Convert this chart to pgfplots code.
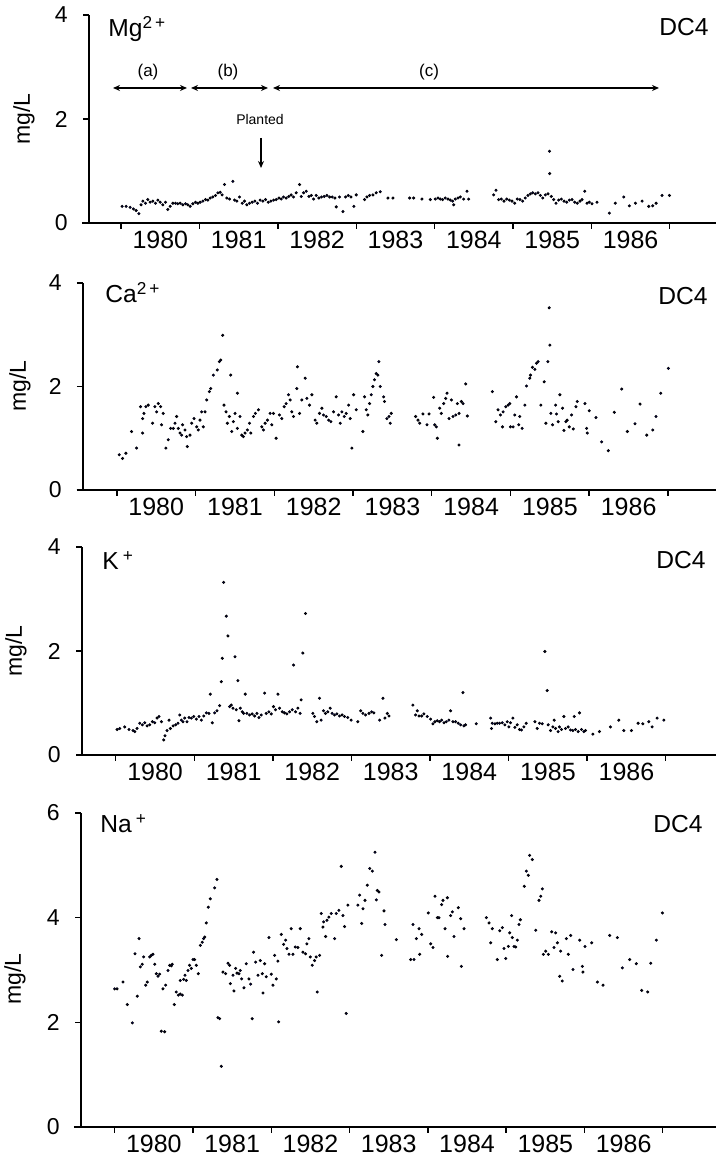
\documentclass[border=0pt]{standalone}
\usepackage{pgfplots}
\pgfplotsset{compat=1.18}
\usepackage{fontspec}
\setmainfont{Liberation Sans}
\usetikzlibrary{arrows.meta}

\pgfplotsset{
  panel/.style={
    scale only axis,
    axis x line*=bottom, axis y line*=left,
    axis line style={line width=0.7pt, -},
    ymin=0,
    xtick={1980,...,1987}, xticklabels={},
    extra x ticks={1980.5,1981.5,1982.5,1983.5,1984.5,1985.5,1986.5},
    extra x tick labels={1980,1981,1982,1983,1984,1985,1986},
    extra x tick style={major tick length=0pt, tick label style={font=\fontsize{12.5}{14}\selectfont, inner sep=0pt, anchor=north, yshift=-4pt}},
    tick align=outside,
    major tick length=3pt,
    tick style={line width=0.7pt, black},
    yticklabel style={font=\fontsize{11.5}{13}\selectfont, inner sep=0pt, xshift=-7.5pt},
    /pgf/number format/assume math mode=true,
    clip=false,
    only marks, mark=*, mark size=0.55pt,
    every axis plot/.append style={black, mark options={fill=black, draw=black}},
  }
}
\newcommand{\tfont}{\fontsize{12.3}{14}\selectfont}
\newcommand{\lfont}{\fontsize{11.5}{14}\selectfont}

\begin{document}
\begin{tikzpicture}
% ---------------- Mg ----------------
\begin{axis}[panel, at={(44.5pt,466.5pt)}, anchor=south west, width=313.5pt, height=104pt,
  xmin=1979.59, xmax=1987.59, ymax=4, ytick={0,2,4}]
\addplot coordinates {
(1980.013,0.32)(1980.064,0.32)(1980.115,0.30)(1980.157,0.27)(1980.191,0.24)(1980.226,0.18)(1980.255,0.35)(1980.277,0.42)
(1980.311,0.38)(1980.340,0.45)(1980.370,0.40)(1980.404,0.42)(1980.438,0.38)(1980.468,0.44)(1980.498,0.40)(1980.532,0.35)
(1980.566,0.40)(1980.596,0.26)(1980.626,0.32)(1980.660,0.38)(1980.694,0.38)(1980.723,0.37)(1980.753,0.38)(1980.787,0.35)
(1980.821,0.37)(1980.851,0.35)(1980.881,0.32)(1980.915,0.37)(1980.949,0.40)(1980.979,0.38)(1981.009,0.40)(1981.043,0.42)
(1981.077,0.45)(1981.106,0.44)(1981.136,0.48)(1981.170,0.50)(1981.204,0.53)(1981.234,0.58)(1981.264,0.59)(1981.289,0.54)
(1981.319,0.74)(1981.349,0.48)(1981.383,0.46)(1981.426,0.80)(1981.447,0.44)(1981.477,0.42)(1981.511,0.50)(1981.545,0.38)
(1981.574,0.42)(1981.604,0.35)(1981.638,0.38)(1981.672,0.40)(1981.706,0.42)(1981.740,0.38)(1981.774,0.44)(1981.809,0.42)
(1981.843,0.45)(1981.877,0.40)(1981.911,0.42)(1981.945,0.44)(1981.979,0.45)(1982.013,0.48)(1982.043,0.46)(1982.072,0.50)
(1982.106,0.48)(1982.140,0.51)(1982.170,0.54)(1982.200,0.50)(1982.234,0.58)(1982.277,0.74)(1982.298,0.51)(1982.328,0.58)
(1982.362,0.61)(1982.396,0.51)(1982.426,0.53)(1982.455,0.46)(1982.489,0.53)(1982.523,0.48)(1982.557,0.50)(1982.591,0.51)
(1982.626,0.53)(1982.660,0.50)(1982.694,0.50)(1982.728,0.48)(1982.745,0.31)(1982.787,0.50)(1982.830,0.22)(1982.864,0.50)
(1982.898,0.53)(1982.932,0.50)(1982.970,0.32)(1983.000,0.54)(1983.106,0.45)(1983.136,0.50)(1983.170,0.53)(1983.213,0.54)
(1983.255,0.58)(1983.306,0.60)(1983.404,0.48)(1983.468,0.48)(1983.681,0.48)(1983.732,0.48)(1983.838,0.46)(1983.945,0.45)
(1984.009,0.46)(1984.043,0.48)(1984.072,0.46)(1984.102,0.45)(1984.136,0.48)(1984.170,0.46)(1984.200,0.44)(1984.230,0.42)
(1984.243,0.35)(1984.264,0.46)(1984.298,0.48)(1984.328,0.50)(1984.370,0.46)(1984.413,0.61)(1984.434,0.46)(1984.753,0.54)
(1984.783,0.63)(1984.817,0.45)(1984.851,0.46)(1984.885,0.42)(1984.919,0.46)(1984.953,0.44)(1984.987,0.42)(1985.021,0.38)
(1985.055,0.46)(1985.089,0.45)(1985.123,0.42)(1985.157,0.48)(1985.191,0.53)(1985.221,0.56)(1985.251,0.58)(1985.285,0.56)
(1985.319,0.58)(1985.349,0.53)(1985.379,0.48)(1985.413,0.54)(1985.447,0.56)(1985.468,0.95)(1985.465,1.38)(1985.489,0.51)
(1985.519,0.45)(1985.549,0.38)(1985.583,0.44)(1985.617,0.46)(1985.651,0.42)(1985.685,0.40)(1985.719,0.44)(1985.753,0.45)
(1985.787,0.40)(1985.821,0.38)(1985.855,0.42)(1985.881,0.45)(1985.915,0.61)(1985.945,0.38)(1985.974,0.40)(1986.009,0.37)
(1986.072,0.40)(1986.230,0.19)(1986.306,0.38)(1986.413,0.50)(1986.485,0.33)(1986.562,0.38)(1986.647,0.42)(1986.732,0.32)
(1986.783,0.33)(1986.826,0.38)(1986.902,0.53)(1986.996,0.53)
};
\draw[line width=0.7pt] (axis cs:1979.5,0) -- (axis cs:1979.59,0);
\end{axis}
% ---------------- Ca ----------------
\begin{axis}[panel, at={(41.5pt,333pt)}, anchor=south west, width=316.5pt, height=103.5pt,
  xmin=1979.57, xmax=1987.61, ymax=4, ytick={0,2,4}]
\addplot coordinates {
(1980.030,0.68)(1980.072,0.61)(1980.115,0.71)(1980.187,1.13)(1980.250,0.81)(1980.301,1.61)(1980.327,1.38)(1980.344,1.48)
(1980.369,1.61)(1980.399,1.64)(1980.327,1.10)(1980.454,1.29)(1980.483,1.61)(1980.505,1.51)(1980.526,1.67)(1980.556,1.61)
(1980.589,1.48)(1980.568,1.26)(1980.623,0.81)(1980.653,0.97)(1980.683,1.19)(1980.717,1.19)(1980.738,1.29)(1980.759,1.42)
(1980.780,1.19)(1980.802,1.10)(1980.823,1.06)(1980.835,1.26)(1980.865,1.16)(1980.886,1.03)(1980.895,0.84)(1980.929,1.06)
(1980.950,1.29)(1980.980,1.38)(1981.014,1.22)(1981.035,1.16)(1981.056,1.35)(1981.077,1.51)(1981.098,1.22)(1981.120,1.51)
(1981.141,1.74)(1981.175,1.90)(1981.192,1.96)(1981.226,2.22)(1981.276,2.32)(1981.302,2.48)(1981.319,2.51)(1981.344,2.99)
(1981.361,1.64)(1981.387,1.51)(1981.404,1.29)(1981.429,1.42)(1981.446,2.22)(1981.459,1.13)(1981.480,1.32)(1981.501,1.48)
(1981.531,1.87)(1981.531,1.19)(1981.565,1.42)(1981.586,1.06)(1981.607,1.03)(1981.628,1.10)(1981.658,1.16)(1981.684,1.29)
(1981.701,1.10)(1981.735,1.42)(1981.760,1.48)(1981.798,1.55)(1981.841,1.22)(1981.862,1.16)(1981.883,1.29)(1981.913,1.35)
(1981.947,1.48)(1981.968,1.26)(1981.989,1.48)(1982.023,1.00)(1982.065,1.45)(1982.095,1.38)(1982.125,1.61)(1982.150,1.67)
(1982.180,1.84)(1982.201,1.74)(1982.222,1.51)(1982.243,1.42)(1982.286,1.96)(1982.294,2.38)(1982.320,1.48)(1982.349,1.74)
(1982.392,2.16)(1982.413,1.77)(1982.447,1.64)(1982.477,1.84)(1982.519,1.35)(1982.540,1.29)(1982.574,1.48)(1982.604,1.58)
(1982.625,1.45)(1982.659,1.42)(1982.689,1.35)(1982.718,1.32)(1982.752,1.51)(1982.786,1.80)(1982.816,1.45)(1982.837,1.29)
(1982.858,1.51)(1982.888,1.42)(1982.913,1.48)(1982.943,1.64)(1982.964,1.38)(1982.985,0.81)(1983.007,1.84)(1983.041,1.55)
(1983.125,1.13)(1983.146,1.80)(1983.167,1.55)(1983.188,1.45)(1983.210,1.67)(1983.231,1.84)(1983.252,2.00)(1983.273,2.13)
(1983.294,2.25)(1983.316,2.22)(1983.328,2.48)(1983.345,2.00)(1983.388,1.80)(1983.400,1.71)(1983.430,1.38)(1983.456,1.42)
(1983.473,1.29)(1983.485,1.48)(1983.795,1.42)(1983.825,1.35)(1983.846,1.29)(1983.888,1.47)(1983.939,1.26)(1983.965,1.47)
(1984.024,1.79)(1984.037,1.26)(1984.058,1.22)(1984.071,1.00)(1984.100,1.58)(1984.121,1.48)(1984.151,1.67)(1984.177,1.77)
(1984.194,1.87)(1984.219,1.38)(1984.249,1.74)(1984.270,1.42)(1984.304,1.45)(1984.325,1.67)(1984.346,1.48)(1984.346,0.87)
(1984.376,1.71)(1984.397,1.67)(1984.431,2.05)(1984.452,1.43)(1984.770,1.90)(1984.813,1.32)(1984.842,1.55)(1984.872,1.45)
(1984.898,1.22)(1984.906,1.51)(1984.940,1.61)(1984.970,1.64)(1984.991,1.67)(1984.999,1.22)(1985.033,1.22)(1985.054,1.45)
(1985.076,1.80)(1985.105,1.26)(1985.118,1.42)(1985.148,1.19)(1985.182,1.64)(1985.203,2.01)(1985.245,2.16)(1985.254,2.22)
(1985.279,2.37)(1985.309,2.33)(1985.330,2.45)(1985.351,2.48)(1985.385,1.64)(1985.428,2.09)(1985.449,1.29)(1985.474,2.48)
(1985.491,3.52)(1985.500,2.80)(1985.512,1.48)(1985.534,1.26)(1985.572,1.64)(1985.584,1.47)(1985.606,1.32)(1985.627,1.84)
(1985.661,1.58)(1985.678,1.15)(1985.703,1.32)(1985.720,1.35)(1985.746,1.22)(1985.775,1.45)(1985.797,1.18)(1985.831,1.61)
(1985.848,1.71)(1985.945,1.67)(1985.966,1.19)(1985.975,1.10)(1986.000,1.53)(1986.085,1.40)(1986.157,0.93)(1986.242,0.76)
(1986.318,1.50)(1986.412,1.95)(1986.484,1.13)(1986.581,1.28)(1986.645,1.66)(1986.730,1.06)(1986.806,1.16)(1986.848,1.42)
(1986.908,1.87)(1987.005,2.35)
};
\draw[line width=0.7pt] (axis cs:1979.49,0) -- (axis cs:1979.57,0);
\end{axis}
% ---------------- K ----------------
\begin{axis}[panel, at={(41pt,200.5pt)}, anchor=south west, width=317pt, height=104pt,
  xmin=1979.57, xmax=1987.64, ymax=4, ytick={0,2,4}]
\addplot coordinates {
(1980.017,0.49)(1980.051,0.51)(1980.114,0.54)(1980.169,0.49)(1980.220,0.47)(1980.242,0.45)(1980.271,0.51)(1980.305,0.61)
(1980.339,0.58)(1980.369,0.62)(1980.398,0.56)(1980.432,0.58)(1980.466,0.64)(1980.496,0.62)(1980.525,0.71)(1980.551,0.74)
(1980.581,0.64)(1980.610,0.29)(1980.627,0.37)(1980.653,0.47)(1980.678,0.67)(1980.695,0.51)(1980.729,0.56)(1980.763,0.58)
(1980.792,0.61)(1980.814,0.77)(1980.835,0.67)(1980.856,0.64)(1980.877,0.71)(1980.907,0.64)(1980.932,0.72)(1980.962,0.71)
(1980.992,0.74)(1981.025,0.69)(1981.059,0.74)(1981.089,0.67)(1981.119,0.75)(1981.153,0.81)(1981.186,0.80)(1981.203,1.17)
(1981.229,0.62)(1981.258,0.81)(1981.288,0.85)(1981.322,0.95)(1981.343,1.41)(1981.356,1.86)(1981.373,3.32)(1981.407,2.67)
(1981.428,2.29)(1981.449,0.93)(1981.470,0.96)(1981.492,0.90)(1981.517,1.89)(1981.534,0.87)(1981.555,1.43)(1981.568,0.66)
(1981.585,0.90)(1981.610,0.83)(1981.627,0.80)(1981.648,1.17)(1981.669,0.80)(1981.703,0.77)(1981.737,0.79)(1981.767,0.75)
(1981.797,0.80)(1981.822,0.72)(1981.852,0.77)(1981.894,1.19)(1981.915,0.80)(1981.949,0.83)(1981.979,0.79)(1982.008,0.93)
(1982.034,0.87)(1982.064,1.17)(1982.085,0.90)(1982.119,0.83)(1982.148,0.81)(1982.178,0.79)(1982.212,0.83)(1982.246,0.87)
(1982.263,1.73)(1982.288,0.83)(1982.318,0.90)(1982.347,0.80)(1982.360,1.06)(1982.381,1.96)(1982.415,2.72)(1982.508,0.80)
(1982.530,0.74)(1982.559,0.64)(1982.593,1.09)(1982.614,0.67)(1982.644,0.85)(1982.669,0.80)(1982.699,0.83)(1982.729,0.90)
(1982.754,0.80)(1982.784,0.77)(1982.814,0.79)(1982.847,0.75)(1982.881,0.77)(1982.911,0.74)(1982.953,0.72)(1982.996,0.67)
(1983.081,0.64)(1983.117,0.85)(1983.146,0.80)(1983.180,0.77)(1983.223,0.80)(1983.257,0.83)(1983.286,0.81)(1983.358,0.67)
(1983.401,1.09)(1983.426,0.71)(1983.456,0.80)(1983.477,0.75)(1983.782,0.96)(1983.816,0.77)(1983.838,0.85)(1983.859,0.75)
(1983.893,0.75)(1983.922,0.79)(1983.965,0.74)(1984.007,0.69)(1984.037,0.60)(1984.062,0.64)(1984.092,0.66)(1984.122,0.64)
(1984.147,0.67)(1984.177,0.62)(1984.207,0.64)(1984.240,0.67)(1984.262,0.85)(1984.291,0.64)(1984.325,0.64)(1984.359,0.61)
(1984.389,0.58)(1984.419,1.20)(1984.431,0.56)(1984.452,0.58)(1984.588,0.60)(1984.771,0.71)(1984.783,0.51)(1984.792,0.61)
(1984.826,0.60)(1984.855,0.61)(1984.885,0.61)(1984.919,0.62)(1984.953,0.58)(1984.983,0.64)(1985.004,0.54)(1985.025,0.62)
(1985.055,0.71)(1985.080,0.53)(1985.110,0.58)(1985.140,0.49)(1985.165,0.48)(1985.195,0.54)(1985.224,0.61)(1985.335,0.64)
(1985.364,0.51)(1985.394,0.61)(1985.428,0.60)(1985.462,1.99)(1985.491,1.24)(1985.504,0.58)(1985.534,0.47)(1985.564,0.54)
(1985.581,0.67)(1985.598,0.51)(1985.631,0.45)(1985.648,0.54)(1985.674,0.49)(1985.704,0.74)(1985.725,0.51)(1985.759,0.54)
(1985.788,0.48)(1985.818,0.47)(1985.835,0.74)(1985.852,0.49)(1985.886,0.45)(1985.903,0.81)(1985.928,0.49)(1985.958,0.45)
(1985.979,0.47)(1986.073,0.40)(1986.157,0.45)(1986.297,0.54)(1986.403,0.67)(1986.467,0.47)(1986.564,0.47)(1986.649,0.61)
(1986.709,0.60)(1986.785,0.64)(1986.827,0.54)(1986.891,0.71)(1986.976,0.67)
};
\draw[line width=0.7pt] (axis cs:1979.5,0) -- (axis cs:1979.57,0);
\end{axis}
% ---------------- Na ----------------
\begin{axis}[panel, at={(40.5pt,14.5pt)}, anchor=south west, width=317.5pt, height=157pt,
  xmin=1979.57, xmax=1987.68, ymax=6, ytick={0,2,4,6}]
\addplot coordinates {
(1980.000,2.64)(1980.030,2.64)(1980.106,2.77)(1980.162,2.34)(1980.226,1.99)(1980.260,3.31)(1980.289,2.50)(1980.311,3.60)
(1980.328,3.06)(1980.353,3.11)(1980.370,3.25)(1980.396,2.71)(1980.417,2.77)(1980.447,3.25)(1980.468,3.28)(1980.489,3.30)
(1980.511,3.11)(1980.532,2.93)(1980.553,2.88)(1980.574,2.92)(1980.596,1.83)(1980.638,1.82)(1980.617,2.64)(1980.651,2.71)
(1980.681,2.99)(1980.702,3.09)(1980.723,3.08)(1980.736,3.11)(1980.762,2.34)(1980.787,2.58)(1980.813,2.52)(1980.838,2.54)
(1980.864,2.52)(1980.838,2.80)(1980.881,2.82)(1980.898,2.90)(1980.915,2.80)(1980.936,2.99)(1980.957,3.09)(1980.979,3.03)
(1981.000,3.20)(1981.021,3.20)(1981.043,3.09)(1981.068,2.93)(1981.094,3.47)(1981.119,3.53)(1981.136,3.60)(1981.149,3.63)
(1981.170,3.90)(1981.196,4.20)(1981.221,4.36)(1981.277,4.57)(1981.306,4.73)(1981.319,2.09)(1981.340,2.07)(1981.362,1.16)
(1981.383,2.96)(1981.417,2.93)(1981.447,3.13)(1981.468,3.09)(1981.477,2.74)(1981.511,2.90)(1981.523,2.60)(1981.545,3.03)
(1981.562,2.94)(1981.587,2.93)(1981.604,2.99)(1981.621,2.83)(1981.651,2.66)(1981.681,3.12)(1981.715,2.83)(1981.736,2.73)
(1981.757,2.07)(1981.774,3.34)(1981.800,3.15)(1981.830,2.90)(1981.860,3.18)(1981.885,2.93)(1981.894,2.56)(1981.915,3.12)
(1981.936,2.87)(1981.970,3.62)(1982.000,2.92)(1982.021,2.71)(1982.043,3.28)(1982.064,2.83)(1982.085,3.17)(1982.094,2.01)
(1982.128,3.68)(1982.157,3.49)(1982.183,3.57)(1982.200,3.41)(1982.226,3.30)(1982.255,3.79)(1982.277,3.30)(1982.306,3.44)
(1982.340,3.43)(1982.370,3.79)(1982.404,3.34)(1982.438,3.31)(1982.455,3.50)(1982.481,3.60)(1982.498,3.25)(1982.523,3.09)
(1982.553,3.18)(1982.574,3.25)(1982.587,2.58)(1982.617,3.28)(1982.638,4.08)(1982.660,3.82)(1982.668,3.92)(1982.694,3.64)
(1982.711,3.95)(1982.736,4.01)(1982.766,4.08)(1982.809,3.60)(1982.830,4.08)(1982.864,4.14)(1982.894,4.98)(1982.915,4.04)
(1982.936,3.83)(1982.957,2.17)(1982.979,4.24)(1983.106,4.24)(1983.128,4.43)(1983.155,3.89)(1983.172,4.17)(1983.197,4.33)
(1983.227,4.62)(1983.257,4.94)(1983.291,4.89)(1983.325,5.25)(1983.342,4.34)(1983.355,4.52)(1983.376,4.49)(1983.410,3.28)
(1983.440,4.13)(1983.453,3.87)(1983.597,3.58)(1983.780,3.20)(1983.810,3.87)(1983.823,3.20)(1983.853,3.60)(1983.887,3.79)
(1983.895,3.30)(1983.921,3.68)(1984.006,4.09)(1984.036,3.50)(1984.066,3.43)(1984.091,4.41)(1984.121,4.00)(1984.142,4.00)
(1984.176,4.25)(1984.193,4.33)(1984.219,3.79)(1984.249,4.38)(1984.253,3.26)(1984.291,4.04)(1984.313,4.11)(1984.334,3.64)
(1984.389,4.19)(1984.419,3.98)(1984.428,3.07)(1984.462,3.79)(1984.747,4.00)(1984.781,3.90)(1984.802,3.52)(1984.823,3.79)
(1984.887,3.20)(1984.917,3.75)(1984.951,3.81)(1984.972,3.41)(1984.994,3.22)(1985.028,3.45)(1985.045,3.71)(1985.070,4.04)
(1985.079,3.62)(1985.100,3.45)(1985.121,3.44)(1985.143,3.57)(1985.164,3.87)(1985.181,3.96)(1985.232,4.60)(1985.258,4.89)
(1985.283,4.81)(1985.300,5.19)(1985.334,5.11)(1985.377,3.76)(1985.419,4.33)(1985.441,4.41)(1985.462,4.55)(1985.475,3.30)
(1985.505,3.36)(1985.539,3.30)(1985.581,3.73)(1985.611,3.43)(1985.632,3.71)(1985.654,3.52)(1985.683,2.88)(1985.696,3.36)
(1985.717,2.79)(1985.769,3.60)(1985.794,3.30)(1985.824,3.66)(1985.854,3.01)(1985.939,3.57)(1985.973,3.07)(1985.981,2.96)
(1986.007,3.45)(1986.092,3.52)(1986.165,2.77)(1986.237,2.71)(1986.322,3.66)(1986.420,3.62)(1986.484,3.04)(1986.577,3.20)
(1986.662,3.12)(1986.731,2.61)(1986.807,2.58)(1986.846,3.13)(1986.918,3.57)(1986.995,4.09)
};
\draw[line width=0.7pt] (axis cs:1979.48,0) -- (axis cs:1979.57,0);
\end{axis}
% ---------------- annotations ----------------
\node[anchor=base west, inner sep=0pt, font=\tfont] at (54pt,559.5pt) {Mg\textsuperscript{2\,+}};
\node[anchor=base east, inner sep=0pt, font=\tfont] at (354.5pt,560pt) {DC4};
\node[anchor=base west, inner sep=0pt, font=\tfont] at (52.5pt,426.5pt) {Ca\textsuperscript{2\,+}};
\node[anchor=base east, inner sep=0pt, font=\tfont] at (354pt,425.5pt) {DC4};
\node[anchor=base west, inner sep=0pt, font=\tfont] at (51pt,293pt) {K\,\textsuperscript{+}};
\node[anchor=base east, inner sep=0pt, font=\tfont] at (353pt,293.5pt) {DC4};
\node[anchor=base west, inner sep=0pt, font=\tfont] at (50pt,161.5pt) {Na\,\textsuperscript{+}};
\node[anchor=base east, inner sep=0pt, font=\tfont] at (351.5pt,161.5pt) {DC4};
\node[rotate=90, font=\lfont] at (12pt,518.5pt) {mg/L};
\node[rotate=90, font=\lfont] at (10pt,385pt) {mg/L};
\node[rotate=90, font=\lfont] at (8pt,252.5pt) {mg/L};
\node[rotate=90, font=\lfont] at (7.5pt,88.5pt) {mg/L};
\draw[{Stealth[length=3.5pt,width=3pt]}-{Stealth[length=3.5pt,width=3pt]}, line width=0.6pt] (56.5pt,534pt) -- (93.5pt,534pt);
\draw[{Stealth[length=3.5pt,width=3pt]}-{Stealth[length=3.5pt,width=3pt]}, line width=0.6pt] (95.5pt,534pt) -- (134pt,534pt);
\draw[{Stealth[length=3.5pt,width=3pt]}-{Stealth[length=3.5pt,width=3pt]}, line width=0.6pt] (136.5pt,534pt) -- (329.5pt,534pt);
\node[font=\fontsize{8.5}{10}\selectfont] at (74pt,542pt) {(a)};
\node[font=\fontsize{8.5}{10}\selectfont] at (114pt,542pt) {(b)};
\node[font=\fontsize{8.5}{10}\selectfont] at (214.5pt,542pt) {(c)};
\node[font=\fontsize{7}{8}\selectfont] at (130pt,518pt) {Planted};
\draw[-{Stealth[length=3.5pt,width=3pt]}, line width=0.6pt] (130.5pt,509pt) -- (130.5pt,494pt);
\pgfresetboundingbox
\path[use as bounding box] (0,0) rectangle (358pt,578pt);
\end{tikzpicture}
\end{document}
